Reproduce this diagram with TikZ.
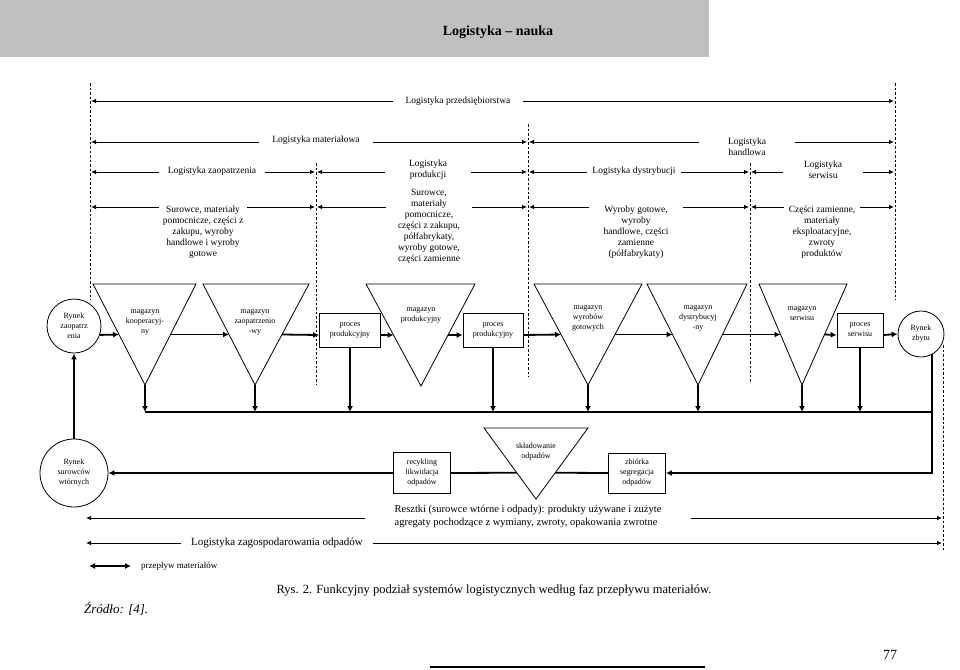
\documentclass[tikz,border=0pt]{standalone}
\usepackage{fontspec}
\setmainfont{Liberation Serif}
\usetikzlibrary{arrows, arrows.meta, positioning, calc, shapes}
\definecolor{headgray}{RGB}{192,192,192}
\tikzstyle{spanarrow} = [line width=0.8pt, -{Latex[length=5pt,width=4.5pt]}, shorten >=1pt]
\tikzstyle{spantext} = [inner sep=0pt, align=center, font=\fontsize{9.5}{11}\selectfont]
\tikzstyle{guide} = [line width=0.9pt, dash pattern=on 2.5pt off 2pt]
\tikzstyle{store} = [line width=0.8pt]
\tikzstyle{storetext} = [inner sep=0pt, align=center, font=\fontsize{8}{10}\selectfont]
\tikzstyle{process} = [rectangle, draw=black, line width=0.8pt, align=center, inner sep=1pt, font=\fontsize{8}{10}\selectfont]
\tikzstyle{market} = [circle, draw=black, line width=0.8pt, align=center, inner sep=0pt, font=\fontsize{8}{10}\selectfont]
\tikzstyle{flow} = [line width=1.8pt, -{Latex[length=6pt,width=6pt]}]
\tikzstyle{bus} = [line width=1.8pt]

\begin{document}
\begin{tikzpicture}[x=1pt, y=-1pt]
\useasboundingbox (0,0) rectangle (960,669);

% header
\fill[headgray] (0,0) rectangle (709,57);
\node (title) at (498,32) [font=\fontsize{14}{16}\selectfont\bfseries] {Logistyka – nauka};

% dashed borders of the phases
\coordinate (v0) at (90,83);   \coordinate (v0b) at (90,300);
\coordinate (v1) at (316,163); \coordinate (v1b) at (316,385);
\coordinate (v2) at (528,124); \coordinate (v2b) at (528,377);
\coordinate (v3) at (750,163); \coordinate (v3b) at (750,383);
\coordinate (v4) at (895,83);  \coordinate (v4b) at (895,300);
\coordinate (v5) at (943,345); \coordinate (v5b) at (943,550);
\draw[guide] (v0) -- (v0b);
\draw[guide] (v1) -- (v1b);
\draw[guide] (v2) -- (v2b);
\draw[guide] (v3) -- (v3b);
\draw[guide] (v4) -- (v4b);
\draw[guide] (v5) -- (v5b);

% rows of the spans
\coordinate (r1) at (0,101);
\coordinate (r2) at (0,142);
\coordinate (r3) at (0,172);
\coordinate (r4) at (0,207);
\coordinate (r5) at (0,518);
\coordinate (r6) at (0,543);
\coordinate (w0) at (85,518);

\node (przed) [spantext, minimum width=129pt] at (458,101) {Logistyka przedsiębiorstwa};
\draw[spanarrow] (przed.west |- r1) -- (v0 |- r1);
\draw[spanarrow] (przed.east |- r1) -- (v4 |- r1);

\node (mat) [spantext, minimum width=113pt] at (316,140) {Logistyka materiałowa};
\draw[spanarrow] (mat.west |- r2) -- (v0 |- r2);
\draw[spanarrow] (mat.east |- r2) -- (v2 |- r2);
\node (hand) [spantext, minimum width=95pt] at (747,147) {Logistyka\\handlowa};
\draw[spanarrow] (hand.west |- r2) -- (v2 |- r2);
\draw[spanarrow] (hand.east |- r2) -- (v4 |- r2);

\node (zaop) [spantext, minimum width=105pt] at (212,171) {Logistyka zaopatrzenia};
\draw[spanarrow] (zaop.west |- r3) -- (v0 |- r3);
\draw[spanarrow] (zaop.east |- r3) -- (v1 |- r3);
\node (prod) [spantext, minimum width=86pt] at (428,170) {Logistyka\\produkcji};
\draw[spanarrow] (prod.west |- r3) -- (v1 |- r3);
\draw[spanarrow] (prod.east |- r3) -- (v2 |- r3);
\node (dyst) [spantext, minimum width=94pt] at (634,171) {Logistyka dystrybucji};
\draw[spanarrow] (dyst.west |- r3) -- (v2 |- r3);
\draw[spanarrow] (dyst.east |- r3) -- (v3 |- r3);
\node (serw) [spantext, minimum width=79pt] at (823,170) {Logistyka\\serwisu};
\draw[spanarrow] (serw.west |- r3) -- (v3 |- r3);
\draw[spanarrow] (serw.east |- r3) -- (v4 |- r3);

\node (matA) [spantext, minimum width=88pt] at (203,232) {Surowce, materiały\\pomocnicze, części z\\zakupu, wyroby\\handlowe i wyroby\\gotowe};
\draw[spanarrow] (matA.west |- r4) -- (v0 |- r4);
\draw[spanarrow] (matA.east |- r4) -- (v1 |- r4);
\node (matB) [spantext, minimum width=86pt] at (429,226) {Surowce,\\materiały\\pomocnicze,\\części z zakupu,\\półfabrykaty,\\wyroby gotowe,\\części zamienne};
\draw[spanarrow] (matB.west |- r4) -- (v1 |- r4);
\draw[spanarrow] (matB.east |- r4) -- (v2 |- r4);
\node (matC) [spantext, minimum width=93pt] at (636,232) {Wyroby gotowe,\\wyroby\\handlowe, części\\zamienne\\(półfabrykaty)};
\draw[spanarrow] (matC.west |- r4) -- (v2 |- r4);
\draw[spanarrow] (matC.east |- r4) -- (v3 |- r4);
\node (matD) [spantext, minimum width=76pt] at (822,232) {Części zamienne,\\materiały\\eksploatacyjne,\\zwroty\\produktów};
\draw[spanarrow] (matD.west |- r4) -- (v3 |- r4);
\draw[spanarrow] (matD.east |- r4) -- (v4 |- r4);

% stores (triangles)
\coordinate (koopL) at (93,284);  \coordinate (koopR) at (196,284);  \coordinate (koopA) at (145,385);
\coordinate (zaopL) at (203,284); \coordinate (zaopR) at (309,284);  \coordinate (zaopA) at (255,385);
\coordinate (prodL) at (366,284); \coordinate (prodR) at (475,284);  \coordinate (prodA) at (421,386);
\coordinate (gotL) at (534,284);  \coordinate (gotR) at (642,284);   \coordinate (gotA) at (588,385);
\coordinate (dystL) at (647,284); \coordinate (dystR) at (747,284);  \coordinate (dystA) at (698,385);
\coordinate (serwL) at (759,284); \coordinate (serwR) at (847,284);  \coordinate (serwA) at (802,385);
\coordinate (sklL) at (484,428);  \coordinate (sklR) at (588,428);   \coordinate (sklA) at (536,499);
\draw[store] (koopL) -- (koopR) -- (koopA) -- cycle;
\draw[store] (zaopL) -- (zaopR) -- (zaopA) -- cycle;
\draw[store] (prodL) -- (prodR) -- (prodA) -- cycle;
\draw[store] (gotL) -- (gotR) -- (gotA) -- cycle;
\draw[store] (dystL) -- (dystR) -- (dystA) -- cycle;
\draw[store] (serwL) -- (serwR) -- (serwA) -- cycle;
\draw[store] (sklL) -- (sklR) -- (sklA) -- cycle;
\node (koop) [storetext] at (145,322) {magazyn\\kooperacyj-\\ny};
\node (zaopm) [storetext] at (255,322) {magazyn\\zaopatrzenio\\-wy};
\node (prodm) [storetext] at (421,315) {magazyn\\produkcyjny};
\node (gotm) [storetext] at (588,318) {magazyn\\wyrobów\\gotowych};
\node (dystm) [storetext] at (698,318) {magazyn\\dystrybucyj\\-ny};
\node (serwm) [storetext] at (802,313) {magazyn\\serwisu};
\node (skl) [storetext] at (536,452) {składowanie\\odpadów};

% markets and processes
\node (rz) [market, minimum size=54pt] at (74,326) {Rynek\\zaopatrz\\enia};
\node (pp1) [process, minimum width=61pt, minimum height=34pt] at (350,330) {proces\\produkcyjny};
\node (pp2) [process, minimum width=60pt, minimum height=34pt] at (493,330) {proces\\produkcyjny};
\node (ps) [process, minimum width=46pt, minimum height=34pt] at (860,330) {proces\\serwisu};
\node (rzb) [market, minimum size=46pt] at (921,334) {Rynek\\zbytu};
\node (rsw) [market, minimum size=68pt] at (74,473) {Rynek\\surowców\\wtórnych};
\node (rec) [process, minimum width=57pt, minimum height=41pt] at (422,473) {recykling\\likwidacja\\odpadów};
\node (zb) [process, minimum width=57pt, minimum height=40pt] at (637,473) {zbiórka\\segregacja\\odpadów};

% material flow
\coordinate (m) at (0,335);
\coordinate (bus) at (0,412);
\draw[flow] (rz.-19) -- ($(koopL)!.5!(koopA)$);
\draw[flow] ($(koopR)!.5!(koopA)$) -- ($(zaopL)!.5!(zaopA)$);
\draw[flow] ($(zaopR)!.5!(zaopA)$) -- (pp1.west |- m);
\draw[flow] (pp1.east |- m) -- ($(prodL)!.5!(prodA)$);
\draw[flow] ($(prodR)!.5!(prodA)$) -- (pp2.west |- m);
\draw[flow] (pp2.east |- m) -- ($(gotL)!.5!(gotA)$);
\draw[flow] ($(gotR)!.5!(gotA)$) -- ($(dystL)!.5!(dystA)$);
\draw[flow] ($(dystR)!.5!(dystA)$) -- ($(serwL)!.5!(serwA)$);
\draw[flow] ($(serwR)!.5!(serwA)$) -- (ps.west |- m);
\draw[flow] (ps.east |- m) -- (rzb.west);

% returns to the collecting line
\draw[flow] (koopA) -- (koopA |- bus);
\draw[flow] (zaopA) -- (zaopA |- bus);
\draw[flow] (pp1.south) -- (pp1.south |- bus);
\draw[flow] (pp2.south) -- (pp2.south |- bus);
\draw[flow] (gotA) -- (gotA |- bus);
\draw[flow] (dystA) -- (dystA |- bus);
\draw[flow] (serwA) -- (serwA |- bus);
\draw[flow] (ps.south) -- (ps.south |- bus);
\draw[bus] (koopA |- bus) -- (rzb.-61 |- bus);
\draw[flow] (rzb.-61) |- (zb.east);
\draw[bus] (zb.west) -- ($(sklR)!.63!(sklA)$);
\draw[bus] ($(sklL)!.63!(sklA)$) -- (rec.east);
\draw[flow] (rec.west) -- (rsw.east);
\draw[flow] (rsw.north) -- (rz.south);

% waste logistics spans
\node (resz) [inner xsep=29pt, inner ysep=0pt, align=left, font=\fontsize{10.5}{13}\selectfont] at (528,516) {Resztki (surowce wtórne i odpady): produkty używane i zużyte\\agregaty pochodzące z wymiany, zwroty, opakowania zwrotne};
\draw[spanarrow] (resz.west |- r5) -- (w0 |- r5);
\draw[spanarrow] (resz.east |- r5) -- (v5 |- r5);
\node (zag) [inner xsep=10pt, inner ysep=0pt, font=\fontsize{11}{13}\selectfont] at (277,543) {Logistyka zagospodarowania odpadów};
\draw[spanarrow] (zag.west |- r6) -- (w0 |- r6);
\draw[spanarrow] (zag.east |- r6) -- (v5 |- r6);

% legend and caption
\coordinate (lg0) at (89,566);
\coordinate (lg1) at (131,566);
\draw[line width=1.6pt, {Latex[length=6pt,width=6pt]}-{Latex[length=6pt,width=6pt]}] (lg0) -- (lg1);
\node (leg) [anchor=west, inner sep=0pt, font=\fontsize{9}{11}\selectfont] at (141,566) {przepływ materiałów};
\node (rys) [font=\fontsize{12.5}{15}\selectfont] at (494,590) {Rys. 2. Funkcyjny podział systemów logistycznych według faz przepływu materiałów.};
\node (zrodlo) [anchor=west, inner sep=0pt, font=\fontsize{13}{15}\selectfont\itshape] at (84,609) {Źródło: [4].};
\node (page) [font=\fontsize{14}{16}\selectfont] at (890,655) {77};
\draw[line width=1.8pt] (430,667) -- (705,667);
\end{tikzpicture}
\end{document}
